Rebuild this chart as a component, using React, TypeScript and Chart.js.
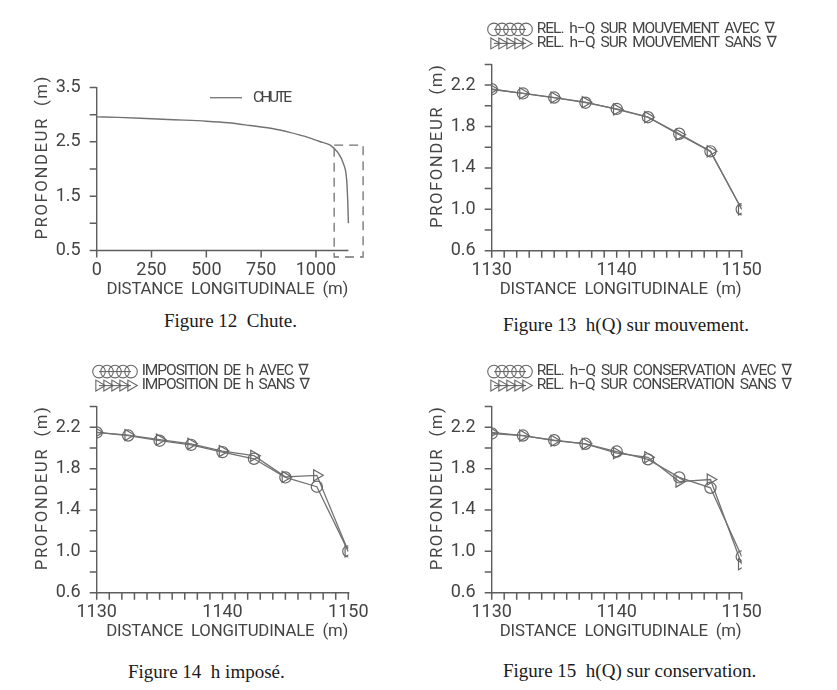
import React, { useEffect, useRef } from 'react';
import { Chart, registerables } from 'chart.js';

Chart.register(...registerables);

// ---------------- DATA ----------------
// Figure 12 – Chute (whole reach)
const chuteDistance = [0, 100, 200, 300, 400, 500, 600, 700, 800, 880, 950, 1000, 1030, 1065, 1100, 1125, 1140, 1145, 1148];
const chuteDepth = [2.96, 2.95, 2.935, 2.915, 2.9, 2.88, 2.85, 2.8, 2.745, 2.675, 2.6, 2.53, 2.49, 2.44, 2.3, 2.1, 1.8, 1.4, 1.0];
// dashed zoom frame drawn on figure 12
const frameDistance = [1083, 1215, 1215, 1083, 1083];
const frameDepth = [2.44, 2.44, 0.38, 0.38, 2.44];

// Figures 13-15 – last 20 m of the reach
const stations = [1130, 1132.5, 1135, 1137.5, 1140, 1142.5, 1145, 1147.5, 1150];
const mouvementAvec = [2.16, 2.12, 2.08, 2.03, 1.97, 1.89, 1.73, 1.56, 1.0];
const mouvementSans = [2.16, 2.12, 2.08, 2.035, 1.965, 1.89, 1.72, 1.56, 1.0];
const impositionAvec = [2.15, 2.12, 2.07, 2.03, 1.96, 1.895, 1.715, 1.625, 1.0];
const impositionSans = [2.15, 2.125, 2.08, 2.04, 1.97, 1.925, 1.72, 1.735, 1.0];
const conservationAvec = [2.14, 2.12, 2.075, 2.04, 1.965, 1.89, 1.715, 1.615, 0.95];
const conservationSans = [2.15, 2.12, 2.07, 2.04, 1.95, 1.91, 1.675, 1.695, 0.875];

// tick positions and tick labels
const xTicks12 = [0, 250, 500, 750, 1000];
const yTicks12 = [0.5, 1.0, 1.5, 2.0, 2.5, 3.0, 3.5];
const xLabels12 = ['0', '250', '500', '750', '1000'];
const yLabels12 = ['0.5', '1.5', '2.5', '3.5'];
const xTicksZoom = [1130, 1131, 1132, 1133, 1134, 1135, 1136, 1137, 1138, 1139, 1140, 1141, 1142, 1143, 1144, 1145, 1146, 1147, 1148, 1149, 1150];
const yTicksZoom = [0.6, 0.8, 1.0, 1.2, 1.4, 1.6, 1.8, 2.0, 2.2, 2.4];
const xLabelsZoom = ['1130', '1140', '1150'];
const yLabelsZoom = ['0.6', '1.0', '1.4', '1.8', '2.2'];

// ---------------- STYLE ----------------
const FONT = 'Roboto, "DejaVu Sans", sans-serif';
const TEXT = '#444444';
const AXIS = '#5e5e5e';
const LINE = '#727272';
const MARK = '#666666';
const TICK_LEN = 7;

function labelFor(v: number, labels: string[]) {
  const s = labels.find((l) => Math.abs(parseFloat(l) - v) < 1e-6);
  return s === undefined ? '' : s;
}

function drawFitted(ctx: CanvasRenderingContext2D, text: string, x: number, y: number, width: number) {
  const c: any = ctx;
  c.letterSpacing = '0px';
  const w0 = ctx.measureText(text).width;
  const n = Array.from(text).length;
  const ls = n > 1 ? (width - w0) / (n - 1) : 0;
  c.letterSpacing = ls.toFixed(2) + 'px';
  ctx.textAlign = 'left';
  ctx.textBaseline = 'middle';
  ctx.fillText(text, x, y);
  c.letterSpacing = '0px';
}

const decorPlugin = {
  id: 'decor',
  afterDraw(chart: any, _args: any, o: any) {
    const { ctx, chartArea: a } = chart;
    const xs = chart.scales.x;
    const ys = chart.scales.y;
    ctx.save();
    ctx.setLineDash([]);
    ctx.fillStyle = TEXT;
    ctx.strokeStyle = AXIS;
    ctx.lineWidth = 1.4;
    let xr = a.right;
    if (o.axisEnd != null) {
      xr = xs.getPixelForValue(o.axisEnd);
      ctx.beginPath();
      ctx.moveTo(a.left, a.bottom);
      ctx.lineTo(xr, a.bottom);
      ctx.stroke();
    }
    // tick marks, outside the plot
    ctx.lineWidth = 1.5;
    const xv: number[] = o.xTickValues || [];
    const yv: number[] = o.yTickValues || [];
    ctx.beginPath();
    xv.forEach((v) => {
      const px = xs.getPixelForValue(v);
      ctx.moveTo(px, a.bottom);
      ctx.lineTo(px, a.bottom + TICK_LEN);
    });
    yv.forEach((v) => {
      const py = ys.getPixelForValue(v);
      ctx.moveTo(a.left, py);
      ctx.lineTo(a.left - TICK_LEN, py);
    });
    ctx.stroke();
    // x title
    ctx.font = `400 ${o.titleSize}px ${FONT}`;
    drawFitted(ctx, o.xTitle, xr - o.xTitleWidth, a.bottom + o.xTitleDy, o.xTitleWidth);
    // y title
    ctx.save();
    ctx.translate(a.left - o.yTitleDx, (a.top + a.bottom) / 2 + o.yTitleDy);
    ctx.rotate(-Math.PI / 2);
    drawFitted(ctx, o.yTitle, -o.yTitleWidth / 2, 0, o.yTitleWidth);
    ctx.restore();
    // legends
    if (o.lineLegend) {
      const L = o.lineLegend;
      const y = a.top + L.dy;
      ctx.strokeStyle = LINE;
      ctx.lineWidth = 1.3;
      ctx.beginPath();
      ctx.moveTo(a.left + L.x0, y);
      ctx.lineTo(a.left + L.x1, y);
      ctx.stroke();
      ctx.font = `400 ${o.legendSize}px ${FONT}`;
      drawFitted(ctx, L.text, a.left + L.textX, y, L.width);
    }
    if (o.rows) {
      o.rows.forEach((row: any, i: number) => {
        const y = a.top + o.rowsDy + i * o.rowGap;
        const x0 = a.left + o.markerDx;
        const r = 6.3;
        ctx.strokeStyle = MARK;
        ctx.lineWidth = 1.1;
        ctx.beginPath();
        ctx.moveTo(x0 + r, y);
        ctx.lineTo(x0 + r + 32, y);
        ctx.stroke();
        for (let k = 0; k < 5; k++) {
          const cx = x0 + r + k * 8;
          ctx.beginPath();
          if (row.marker === 'circle') {
            ctx.arc(cx, y, r, 0, Math.PI * 2);
          } else {
            ctx.moveTo(cx + r, y);
            ctx.lineTo(cx - r / 2, y - r * 0.866);
            ctx.lineTo(cx - r / 2, y + r * 0.866);
            ctx.closePath();
          }
          ctx.stroke();
        }
        ctx.font = `400 ${o.legendSize}px ${FONT}`;
        drawFitted(ctx, row.text, a.left + o.textDx, y, row.width);
      });
    }
    ctx.restore();
  },
};

function makeScale(axis: 'x' | 'y', min: number, max: number, tickValues: number[], labels: string[], extra: any = {}) {
  const isX = axis === 'x';
  return {
    type: 'linear',
    min,
    max,
    ticks: {
      autoSkip: false,
      maxRotation: 0,
      minRotation: 0,
      padding: isX ? 2 + TICK_LEN : 9 + TICK_LEN,
      color: TEXT,
      font: { family: FONT, size: 18, weight: 400 },
      callback: (v: any) => labelFor(Number(v), labels),
    },
    grid: { drawOnChartArea: false, drawTicks: false, tickLength: 0, color: AXIS, lineWidth: 1.4 },
    border: { display: extra.border !== false, color: AXIS, width: 1.4 },
    afterBuildTicks: (s: any) => {
      s.ticks = tickValues.map((v) => ({ value: v }));
    },
    afterFit: (s: any) => {
      if (isX) s.height = 30;
      else s.width = 60;
    },
  };
}

function pts(xs: number[], ys: number[]) {
  return xs.map((x, i) => ({ x, y: ys[i] }));
}

function zoomConfig(avec: number[], sans: number[], pad: any, rows: any[]) {
  return {
    type: 'line',
    data: {
      datasets: [
        {
          label: 'avec',
          data: pts(stations, avec),
          borderColor: LINE,
          borderWidth: 1.3,
          pointStyle: 'circle',
          pointRadius: 5.6,
          pointBorderColor: MARK,
          pointBackgroundColor: 'rgba(0,0,0,0)',
          pointBorderWidth: 1.2,
          tension: 0,
        },
        {
          label: 'sans',
          data: pts(stations, sans),
          borderColor: LINE,
          borderWidth: 1.3,
          pointStyle: 'triangle',
          pointRotation: 90,
          pointRadius: 6.4,
          pointBorderColor: MARK,
          pointBackgroundColor: 'rgba(0,0,0,0)',
          pointBorderWidth: 1.2,
          tension: 0,
        },
      ],
    },
    options: {
      responsive: false,
      animation: false,
      devicePixelRatio: 1,
      events: [],
      layout: { padding: pad },
      scales: {
        x: makeScale('x', 1130, 1150, xTicksZoom, xLabelsZoom),
        y: makeScale('y', 0.6, 2.4, yTicksZoom, yLabelsZoom),
      },
      plugins: {
        legend: { display: false },
        tooltip: { enabled: false },
        decor: {
          xTickValues: xTicksZoom,
          yTickValues: yTicksZoom,
          titleSize: 16.8,
          xTitle: 'DISTANCE  LONGITUDINALE  (m)',
          xTitleWidth: 242,
          xTitleDy: 39.5,
          yTitle: 'PROFONDEUR  (m)',
          yTitleWidth: 163,
          yTitleDx: 54,
          yTitleDy: -11,
          legendSize: 15.5,
          rows,
          rowsDy: -35,
          rowGap: 14,
          markerDx: -4,
          textDx: 45,
        },
      },
    },
    plugins: [decorPlugin],
  };
}

const config12: any = {
  type: 'line',
  data: {
    datasets: [
      {
        label: 'CHUTE',
        data: pts(chuteDistance, chuteDepth),
        borderColor: LINE,
        borderWidth: 1.4,
        pointRadius: 0,
        cubicInterpolationMode: 'monotone',
      },
      {
        label: 'cadre',
        data: pts(frameDistance, frameDepth),
        borderColor: LINE,
        borderWidth: 1.3,
        borderDash: [9, 6],
        pointRadius: 0,
        tension: 0,
        clip: false,
      },
    ],
  },
  options: {
    responsive: false,
    animation: false,
    devicePixelRatio: 1,
    events: [],
    layout: { padding: { left: 36.7, top: 87.5, right: 53.8, bottom: 19.5 } },
    scales: {
      x: makeScale('x', 0, 1220, xTicks12, xLabels12, { border: false }),
      y: makeScale('y', 0.5, 3.5, yTicks12, yLabels12),
    },
    plugins: {
      legend: { display: false },
      tooltip: { enabled: false },
      decor: {
        xTickValues: xTicks12,
        yTickValues: yTicks12,
        axisEnd: 1148,
        titleSize: 16.8,
        xTitle: 'DISTANCE  LONGITUDINALE  (m)',
        xTitleWidth: 242,
        xTitleDy: 39.5,
        yTitle: 'PROFONDEUR  (m)',
        yTitleWidth: 163,
        yTitleDx: 54,
        yTitleDy: -11,
        legendSize: 15.5,
        lineLegend: { text: 'CHUTE', x0: 113.3, x1: 145.3, textX: 156.3, width: 39, dy: 10.2 },
      },
    },
  },
  plugins: [decorPlugin],
};

const config13: any = zoomConfig(mouvementAvec, mouvementSans, { left: 13.7, top: 64.4, right: 95.3, bottom: 19.3 }, [
  { marker: 'circle', text: 'REL.  h−Q  SUR  MOUVEMENT  AVEC  ∇', width: 238 },
  { marker: 'triangle', text: 'REL.  h−Q  SUR  MOUVEMENT  SANS  ∇', width: 240 },
]);
const config14: any = zoomConfig(impositionAvec, impositionSans, { left: 36.7, top: 61.6, right: 69.7, bottom: 22.3 }, [
  { marker: 'circle', text: 'IMPOSITION  DE  h  AVEC  ∇', width: 167 },
  { marker: 'triangle', text: 'IMPOSITION  DE  h  SANS  ∇', width: 168 },
]);
const config15: any = zoomConfig(conservationAvec, conservationSans, { left: 13.7, top: 61.6, right: 95.3, bottom: 22.3 }, [
  { marker: 'circle', text: 'REL.  h−Q  SUR  CONSERVATION  AVEC  ∇', width: 255 },
  { marker: 'triangle', text: 'REL.  h−Q  SUR  CONSERVATION  SANS  ∇', width: 255 },
]);

function Panel({ left, top, width, height, config }: any) {
  const ref = useRef<HTMLCanvasElement>(null);
  useEffect(() => {
    const chart = new Chart(ref.current as HTMLCanvasElement, config);
    return () => chart.destroy();
  }, []);
  return (
    <div style={{ position: 'absolute', left, top, width, height }}>
      <canvas ref={ref} width={width} height={height} style={{ width, height, display: 'block' }} />
    </div>
  );
}

function Caption({ left, top, text }: any) {
  return (
    <div
      style={{
        position: 'absolute',
        left,
        top,
        fontFamily: '"Liberation Serif", "DejaVu Serif", serif',
        fontSize: 19,
        lineHeight: '20px',
        color: '#1a1a1a',
        whiteSpace: 'pre',
      }}
    >
      {text}
    </div>
  );
}

export default function App() {
  return (
    <div style={{ position: 'absolute', left: 0, top: 0, width: 837, height: 690, background: '#fff', overflow: 'hidden' }}>
      <Panel left={0} top={0} width={418} height={300} config={config12} />
      <Panel left={418} top={0} width={419} height={300} config={config13} />
      <Panel left={0} top={345} width={418} height={300} config={config14} />
      <Panel left={418} top={345} width={419} height={300} config={config15} />
      <Caption left={164} top={311} text={'Figure 12  Chute.'} />
      <Caption left={503} top={315} text={'Figure 13  h(Q) sur mouvement.'} />
      <Caption left={128} top={662} text={'Figure 14  h imposé.'} />
      <Caption left={503} top={661} text={'Figure 15  h(Q) sur conservation.'} />
    </div>
  );
}
